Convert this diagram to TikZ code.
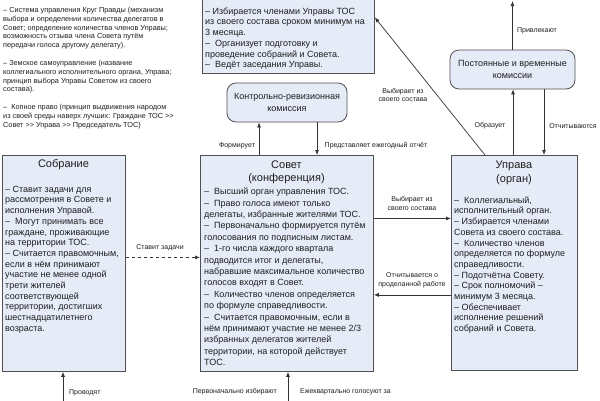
\documentclass[tikz,border=0pt]{standalone}
\usepackage{fontspec}
\setmainfont{Liberation Sans}
\usetikzlibrary{arrows.meta,calc}
\definecolor{boxfill}{HTML}{E6EBF8}
\definecolor{boxline}{HTML}{505050}
\definecolor{lineclr}{HTML}{333333}
\definecolor{txt}{HTML}{1E1E1E}
\begin{document}
\begin{tikzpicture}[x=1pt,y=-1pt,
  box/.style={draw=boxline, fill=boxfill, line width=0.8pt, inner sep=0pt, anchor=north west},
  rbox/.style={draw=boxline, fill=boxfill, line width=0.8pt, rounded corners=9pt, inner sep=0pt,
    align=center, text=txt, font=\fontsize{9}{11.5}\selectfont},
  body/.style={inner sep=0pt, anchor=north west, align=left, text=txt, font=\fontsize{9}{10.7}\selectfont},
  bodywide/.style={body, font=\fontsize{9}{11.4}\selectfont},
  ttl/.style={inner sep=0pt, align=center, text=txt, font=\fontsize{11}{13.5}\selectfont},
  note/.style={inner sep=0pt, anchor=north west, align=left, text=txt, font=\fontsize{7.3}{8.8}\selectfont},
  lbl/.style={inner sep=0pt, align=center, text=txt, font=\fontsize{7}{8.6}\selectfont},
  conn/.style={draw=lineclr, line width=0.7pt, -{Latex[length=5pt,width=4pt]}}
]
\useasboundingbox (0,0) rectangle (600,400);
\clip (0,0) rectangle (600,400);

% notes top-left
\node[note] (n1) at (3,6.2) {\strut– Система управления Круг Правды (механизм\\выбора и определении количества делегатов в\\Совет; определение количества членов Управы;\\возможность отзыва члена Совета путём\\передачи голоса другому делегату).};
\node[note] (n2) at (3,59.2) {\strut– Земское самоуправление (название\\коллегиального исполнительного органа, Управа;\\принцип выбора Управы Советом из своего\\состава).};
\node[note] (n3) at (3,103.2) {\strut–\ \ Копное право (принцип выдвижения народом\\из своей среды наверх лучших: Граждане ТОС >\kern0pt>\\Совет >\kern0pt> Управа >\kern0pt> Председатель ТОС)};

% boxes
\node[box, minimum width=172pt, minimum height=83pt] (pred) at (202,-10) {};
\node[body] (predt) at (205,6.6) {\strut– Избирается членами Управы ТОС\\из своего состава сроком минимум на\\3 месяца.\\–\ \ Организует подготовку и\\проведение собраний и Совета.\\–\ \ Ведёт заседания Управы.};

\node[rbox, minimum width=120pt, minimum height=39pt] (krk) at (287,102.5) {Контрольно-ревизионная\\комиссия};
\node[rbox, minimum width=125pt, minimum height=39pt] (pvk) at (512.5,69.5) {Постоянные и временные\\комиссии};

\node[box, minimum width=123pt, minimum height=216pt] (sobr) at (2,155) {};
\node[ttl] (sobrh) at (63.5,165) {Собрание};
\node[body] (sobrt) at (5,184.6) {\strut– Ставит задачи для\\рассмотрения в Совете и\\исполнения Управой.\\–\ \ Могут принимать все\\граждане, проживающие\\на территории ТОС.\\– Считается правомочным,\\если в нём принимают\\участие не менее одной\\трети жителей\\соответствующей\\территории, достигших\\шестнадцатилетнего\\возраста.};

\node[box, minimum width=173pt, minimum height=216pt] (sovet) at (200,155) {};
\node[ttl] (sovh) at (286.5,172.5) {Совет\\(конференция)};
\node[bodywide] (sovt) at (204,186.6) {\strut–\ \ Высший орган управления ТОС.\\–\ \ Право голоса имеют только\\делегаты, избранные жителями ТОС.\\–\ \ Первоначально формируется путём\\голосования по подписным листам.\\–\ \ 1-го числа каждого квартала\\подводится итог и делегаты,\\набравшие максимальное количество\\голосов входят в Совет.\\–\ \ Количество членов определяется\\по формуле справедливости.\\–\ \ Считается правомочным, если в\\нём принимают участие не менее 2/3\\избранных делегатов жителей\\территории, на которой действует\\ТОС.};

\node[box, minimum width=126pt, minimum height=215pt] (uprava) at (451,155) {};
\node[ttl] (uprh) at (514,173) {Управа\\(орган)};
\node[body] (uprt) at (454,195.6) {\strut–\ \ Коллегиальный,\\исполнительный орган.\\– Избирается членами\\Совета из своего состава.\\–\ \ Количество членов\\определяется по формуле\\справедливости.\\– Подотчётна Совету.\\– Срок полномочий –\\минимум 3 месяца.\\– Обеспечивает\\исполнение решений\\собраний и Совета.};

% connectors
\draw[conn] ([xshift=59pt]sovet.north west) -- ([xshift=59pt]sovet.north west |- krk.south);
\draw[conn] ([xshift=117pt]sovet.north west |- krk.south) -- ([xshift=117pt]sovet.north west);
\draw[conn, dashed] ([yshift=6pt]sobr.east) -- ([yshift=6pt]sobr.east -| sovet.west);
\draw[conn] ([yshift=45pt]sovet.east) -- ([yshift=45pt]sovet.east -| uprava.west);
\draw[conn] ([yshift=-32pt]uprava.west) -- ([yshift=-32pt]uprava.west -| sovet.east);
\draw[conn] ([xshift=34pt]uprava.north west) -- ([yshift=14.5pt]pred.east);
\draw[conn] ([xshift=62pt]uprava.north west) -- ([xshift=62pt]uprava.north west |- pvk.south);
\draw[conn] ([xshift=93pt]uprava.north west |- pvk.south) -- ([xshift=93pt]uprava.north west);
\coordinate (pvktop) at (512.5,1);
\draw[conn] (pvk.north) -- (pvktop);
\coordinate (sobrin) at (63,401);
\draw[conn] (sobrin) -- (sobrin |- sobr.south);
\coordinate (sovin) at (288,401);
\draw[conn] (sovin) -- (sovin |- sovet.south);

% labels
\node[lbl] (l1) at (237,146) {Формирует};
\node[lbl] (l2) at (376,146) {Представляет ежегодный отчёт};
\node[lbl] (l3) at (160,248) {Ставит задачи};
\node[lbl] (l4) at (412,203.5) {Выбирает из\\своего состава};
\node[lbl] (l5) at (412,280) {Отчитывается о\\проделанной работе};
\node[lbl] (l6) at (403,95) {Выбирает из\\своего состава};
\node[lbl] (l7) at (537,31) {Привлекают};
\node[lbl] (l8) at (490,126) {Образует};
\node[lbl] (l9) at (573,126) {Отчитываются};
\node[lbl, anchor=west] (l10) at (69,393) {Проводят};
\node[lbl, anchor=east] (l11) at (277,392) {Первоначально избирают};
\node[lbl, anchor=west] (l12) at (300,392) {Ежеквартально голосуют за};
\end{tikzpicture}
\end{document}
